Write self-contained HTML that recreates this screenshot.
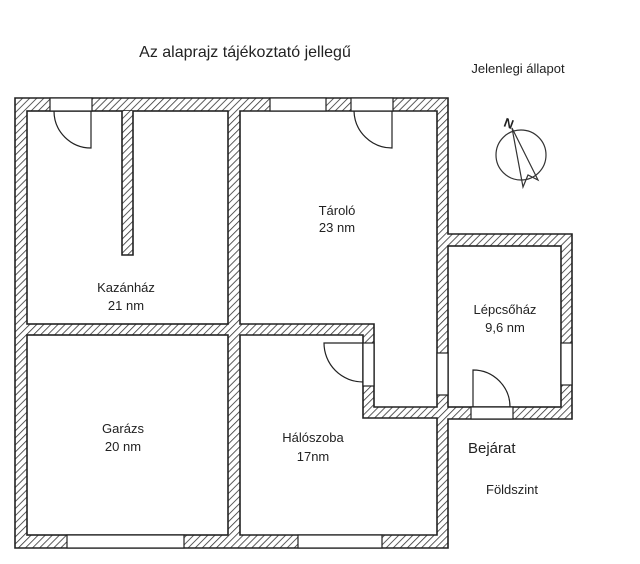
<!DOCTYPE html>
<html><head><meta charset="utf-8"><style>
html,body{margin:0;padding:0;background:#fff;}
svg{display:block;}
text{font-family:"Liberation Sans",sans-serif;fill:#222;}
</style></head><body>
<svg width="640" height="564" viewBox="0 0 640 564" xmlns="http://www.w3.org/2000/svg">
<defs>
<pattern id="h" width="5" height="5" patternUnits="userSpaceOnUse" patternTransform="rotate(45)">
<rect width="5" height="5" fill="#fff"/>
<line x1="0" y1="0" x2="0" y2="5" stroke="#333" stroke-width="1.6"/>
</pattern>
</defs>
<g stroke="#222" stroke-width="1.6">
<path d="M15,98 H448 V234 H572 V419 H448 V548 H15 Z" fill="url(#h)"/>
<rect x="27" y="111" width="201" height="213" fill="#fff"/>
<path d="M240,111 H437 V407 H374 V324 H240 Z" fill="#fff"/>
<rect x="448" y="246" width="113" height="161" fill="#fff"/>
<rect x="27" y="335" width="201" height="200" fill="#fff"/>
<path d="M240,335 H363 V418 H437 V535 H240 Z" fill="#fff"/>
<path d="M122,111 V255 H133 V111" fill="url(#h)"/>
<g fill="#fff" stroke-width="1.2">
<rect x="50" y="98" width="42" height="13"/>
<rect x="270" y="98" width="56" height="13"/>
<rect x="351" y="98" width="42" height="13"/>
<rect x="67" y="535" width="117" height="13"/>
<rect x="298" y="535" width="84" height="13"/>
<rect x="363" y="343" width="11" height="43"/>
<rect x="437" y="353" width="11" height="42"/>
<rect x="561" y="343" width="11" height="42"/>
<rect x="471" y="407" width="42" height="12"/>
</g>
<g fill="none" stroke-width="1.2">
<path d="M91,111 L91,148 A37 37 0 0 1 54,111"/>
<path d="M392,111 L392,148 A38 38 0 0 1 354,111"/>
<path d="M363,343 L324,343 A39 39 0 0 0 363,382"/>
<path d="M473,407 L473,370 A37 37 0 0 1 510,407"/>
</g>
</g>
<g fill="none" stroke="#333" stroke-width="1.2">
<circle cx="521" cy="155" r="25"/>
<path d="M512,128 L523,187 L528,175 L538,180 Z"/>
</g>
<text x="504" y="128" font-size="13" font-weight="bold" transform="rotate(20 509 124)">N</text>
<text x="245" y="57" font-size="16" text-anchor="middle">Az alaprajz tájékoztató jellegű</text>
<text x="518" y="73" font-size="13" text-anchor="middle">Jelenlegi állapot</text>
<g font-size="13" text-anchor="middle">
<text x="337" y="215">Tároló</text><text x="337" y="232">23 nm</text>
<text x="126" y="292">Kazánház</text><text x="126" y="310">21 nm</text>
<text x="505" y="314">Lépcsőház</text><text x="505" y="332">9,6 nm</text>
<text x="123" y="433">Garázs</text><text x="123" y="451">20 nm</text>
<text x="313" y="442">Hálószoba</text><text x="313" y="461">17nm</text>
</g>
<text x="468" y="453" font-size="15">Bejárat</text>
<text x="486" y="494" font-size="13">Földszint</text>
</svg>
</body></html>
